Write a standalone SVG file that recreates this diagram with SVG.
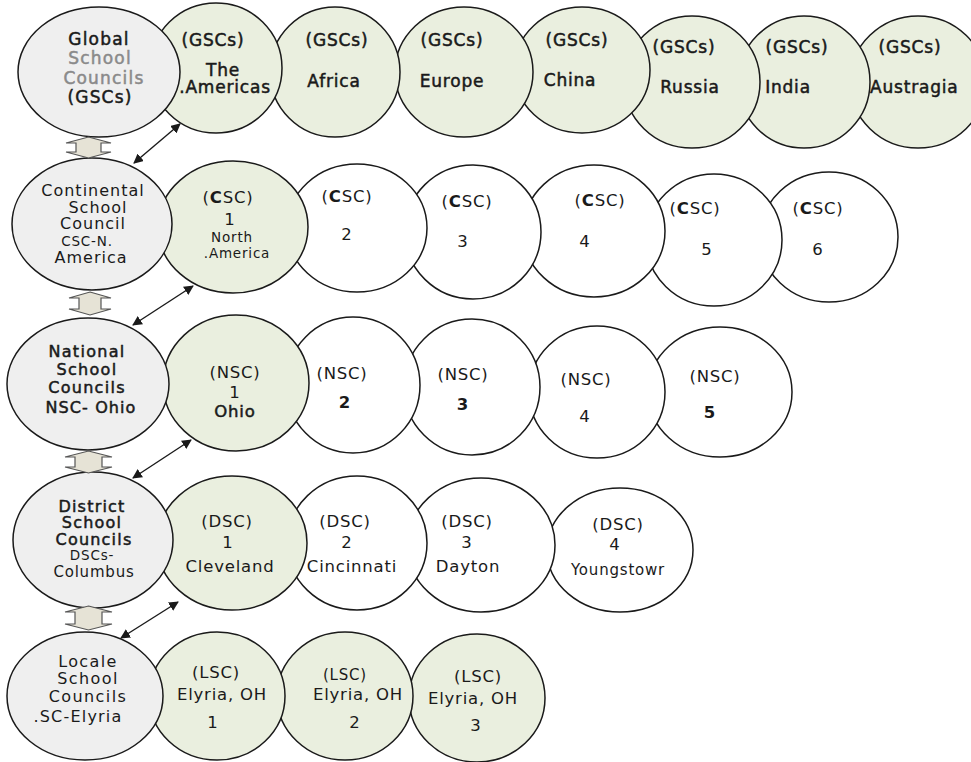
<svg xmlns="http://www.w3.org/2000/svg" width="971" height="762" viewBox="0 0 971 762">
<defs>
<style>
.c{stroke:#1a1a1a;stroke-width:1.5}
.lft{fill:#efefef}
.grn{fill:#eaefdf}
.wht{fill:#ffffff}
text{font-family:"DejaVu Sans","Liberation Sans",sans-serif;font-size:16.5px;fill:#1a1a1a;text-anchor:middle;letter-spacing:0.8px}
.b{stroke:#1a1a1a;stroke-width:0.5px}
.bb{font-weight:bold}
.g{fill:#8a8a8a;stroke:#8a8a8a}
.t{font-size:17px}
.n{font-size:16px;letter-spacing:1px}
.s{font-size:13.5px;letter-spacing:0.8px}
.m{font-size:15px}
.blk{fill:#e6e3d6;stroke:#555;stroke-width:1.2}
.dl{stroke:#1a1a1a;stroke-width:1.4;fill:none;marker-start:url(#ah);marker-end:url(#ah)}
</style>
<marker id="ah" viewBox="0 0 10 10" refX="9" refY="5" markerWidth="7" markerHeight="7" orient="auto-start-reverse" markerUnits="strokeWidth">
<path d="M0,0 L10,5 L0,10 z" fill="#1a1a1a"/>
</marker>
</defs>

<!-- Row 1 -->
<g id="gsc-austragia"><ellipse class="c grn" cx="918" cy="82" rx="68" ry="66"/><text class="b t" x="910" y="53">(GSCs)</text><text class="b t" x="870" y="93" style="text-anchor:start">Austragia</text></g>
<g id="gsc-india"><ellipse class="c grn" cx="804" cy="82" rx="66" ry="66"/><text class="b t" x="797" y="53">(GSCs)</text><text class="b t" x="788" y="93">India</text></g>
<g id="gsc-russia"><ellipse class="c grn" cx="692" cy="82" rx="68" ry="66"/><text class="b t" x="684" y="53">(GSCs)</text><text class="b t" x="690" y="93">Russia</text></g>
<g id="gsc-china"><ellipse class="c grn" cx="582" cy="70" rx="68" ry="63"/><text class="b t" x="577" y="46">(GSCs)</text><text class="b t" x="570" y="86">China</text></g>
<g id="gsc-europe"><ellipse class="c grn" cx="464" cy="72" rx="69" ry="65"/><text class="b t" x="452" y="46">(GSCs)</text><text class="b t" x="452" y="87">Europe</text></g>
<g id="gsc-africa"><ellipse class="c grn" cx="335" cy="72" rx="65" ry="65"/><text class="b t" x="337" y="46">(GSCs)</text><text class="b t" x="334" y="87">Africa</text></g>
<g id="gsc-americas"><ellipse class="c grn" cx="216" cy="68" rx="66" ry="65"/><text class="b t" x="213" y="46">(GSCs)</text><text class="b t" x="223" y="76">The</text><text class="b t" x="225" y="93">.Americas</text></g>
<g id="global"><ellipse class="c lft" cx="99" cy="72" rx="81" ry="65"/><text class="b t" x="99" y="45" style="letter-spacing:1.2px">Global</text><text class="b g t" x="100" y="64" style="letter-spacing:1.2px">School</text><text class="b g t" x="104" y="84" style="letter-spacing:1.2px">Councils</text><text class="b t" x="100" y="103" style="letter-spacing:1.2px">(GSCs)</text></g>

<!-- Row 2 -->
<g id="csc-6"><ellipse class="c wht" cx="829" cy="237" rx="69" ry="65"/><text x="818" y="214">(<tspan class="bb">C</tspan>SC)</text><text x="818" y="255">6</text></g>
<g id="csc-5"><ellipse class="c wht" cx="714" cy="240" rx="68" ry="66"/><text x="695" y="214">(<tspan class="bb">C</tspan>SC)</text><text x="707" y="255">5</text></g>
<g id="csc-4"><ellipse class="c wht" cx="594" cy="231" rx="71" ry="66"/><text x="600" y="206">(<tspan class="bb">C</tspan>SC)</text><text x="585" y="247">4</text></g>
<g id="csc-3"><ellipse class="c wht" cx="473" cy="232" rx="68" ry="67"/><text x="467" y="207">(<tspan class="bb">C</tspan>SC)</text><text x="463" y="247">3</text></g>
<g id="csc-2"><ellipse class="c wht" cx="357" cy="228" rx="70" ry="64"/><text x="347" y="202">(<tspan class="bb">C</tspan>SC)</text><text x="347" y="240">2</text></g>
<g id="csc-1"><ellipse class="c grn" cx="233" cy="227" rx="75" ry="66"/><text x="228" y="203">(<tspan class="bb">C</tspan>SC)</text><text x="230" y="225">1</text><text class="s" x="232" y="242">North</text><text class="s" x="237" y="258">.America</text></g>
<g id="continental"><ellipse class="c lft" cx="92" cy="224" rx="80" ry="66"/><text class="n" x="93" y="196">Continental</text><text class="n" x="98" y="213">School</text><text class="n" x="93" y="229">Council</text><text class="s" x="87" y="246">CSC-N.</text><text class="n" x="91" y="263">America</text></g>

<!-- Row 3 -->
<g id="nsc-5"><ellipse class="c wht" cx="720" cy="392" rx="72" ry="65"/><text x="715" y="382">(NSC)</text><text class="bb" x="710" y="418">5</text></g>
<g id="nsc-4"><ellipse class="c wht" cx="597" cy="392" rx="68" ry="66"/><text x="586" y="385">(NSC)</text><text x="585" y="422">4</text></g>
<g id="nsc-3"><ellipse class="c wht" cx="472" cy="387" rx="68" ry="68"/><text x="463" y="380">(NSC)</text><text class="bb" x="463" y="410">3</text></g>
<g id="nsc-2"><ellipse class="c wht" cx="353" cy="385" rx="67" ry="68"/><text x="342" y="379">(NSC)</text><text class="bb" x="345" y="408">2</text></g>
<g id="nsc-1"><ellipse class="c grn" cx="236" cy="383" rx="73" ry="68"/><text x="235" y="378">(NSC)</text><text x="235" y="398">1</text><text class="b" x="235" y="417">Ohio</text></g>
<g id="national"><ellipse class="c lft" cx="88" cy="384" rx="81" ry="66"/><text class="b n" x="87" y="357" style="letter-spacing:1.3px">National</text><text class="b n" x="87" y="375" style="letter-spacing:1.3px">School</text><text class="b n" x="87" y="393" style="letter-spacing:1.3px">Councils</text><text class="b n" x="91" y="413" style="letter-spacing:1.1px">NSC- Ohio</text></g>

<!-- Row 4 -->
<g id="dsc-4"><ellipse class="c wht" cx="620" cy="550" rx="73" ry="62"/><text x="618" y="530">(DSC)</text><text x="615" y="550">4</text><text class="m" x="618" y="575">Youngstowr</text></g>
<g id="dsc-3"><ellipse class="c wht" cx="481" cy="545" rx="74" ry="67"/><text x="467" y="527">(DSC)</text><text x="467" y="548">3</text><text x="468" y="572">Dayton</text></g>
<g id="dsc-2"><ellipse class="c wht" cx="357" cy="543" rx="70" ry="67"/><text x="345" y="527">(DSC)</text><text x="347" y="548">2</text><text x="352" y="572">Cincinnati</text></g>
<g id="dsc-1"><ellipse class="c grn" cx="232" cy="543" rx="75" ry="67"/><text x="227" y="527">(DSC)</text><text x="228" y="548">1</text><text x="230" y="572">Cleveland</text></g>
<g id="district"><ellipse class="c lft" cx="93" cy="540" rx="80" ry="68"/><text class="b n" x="92" y="512" style="letter-spacing:1.2px">District</text><text class="b n" x="92" y="528" style="letter-spacing:1.2px">School</text><text class="b n" x="94" y="545" style="letter-spacing:1.2px">Councils</text><text class="s" x="92" y="560">DSCs-</text><text class="m" x="94" y="577">Columbus</text></g>

<!-- Row 5 -->
<g id="lsc-3"><ellipse class="c grn" cx="477" cy="698" rx="68" ry="64"/><text x="478" y="682">(LSC)</text><text x="473" y="704">Elyria, OH</text><text x="476" y="731">3</text></g>
<g id="lsc-2"><ellipse class="c grn" cx="345" cy="696" rx="68" ry="64"/><text class="m" x="345" y="680">(LSC)</text><text x="358" y="700">Elyria, OH</text><text x="355" y="728">2</text></g>
<g id="lsc-1"><ellipse class="c grn" cx="217" cy="696" rx="68" ry="64"/><text x="216" y="678">(LSC)</text><text x="222" y="700">Elyria, OH</text><text x="213" y="728">1</text></g>
<g id="locale"><ellipse class="c lft" cx="85" cy="696" rx="78" ry="64"/><text class="n" x="88" y="667" style="letter-spacing:1.4px">Locale</text><text class="n" x="88" y="684" style="letter-spacing:1.4px">School</text><text class="n" x="88" y="702" style="letter-spacing:1.4px">Councils</text><text class="n" x="78" y="722" style="letter-spacing:1.2px">.SC-Elyria</text></g>

<!-- Connectors -->
<g id="connectors">
<polygon class="blk" points="88.5,137 111,143 101,143 101,152 111,152 88.5,158 66,152 76,152 76,143 66,143"/>
<polygon class="blk" points="90,292 111,298 101,298 101,309 111,309 90,315 69,309 79,309 79,298 69,298"/>
<polygon class="blk" points="88.5,451 112,457 102,457 102,467 112,467 88.5,473 65,467 75,467 75,457 65,457"/>
<polygon class="blk" points="88.5,606 112,612 102,612 102,624 112,624 88.5,630 65,624 75,624 75,612 65,612"/>
<line class="dl" x1="134" y1="163" x2="180" y2="124"/>
<line class="dl" x1="133" y1="325" x2="193" y2="286"/>
<line class="dl" x1="133" y1="478" x2="191" y2="440"/>
<line class="dl" x1="121" y1="638" x2="178" y2="602"/>
</g>
</svg>
